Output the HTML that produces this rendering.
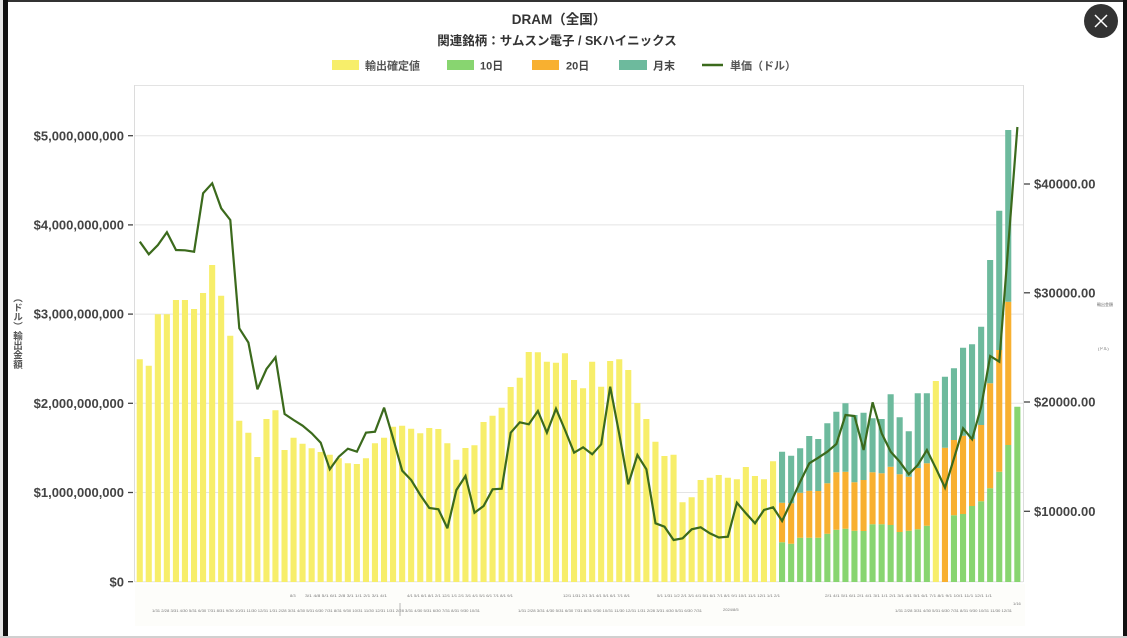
<!DOCTYPE html>
<html><head><meta charset="utf-8"><style>
html,body{margin:0;padding:0;background:#fff;}
#wrap{position:relative;width:1127px;height:638px;overflow:hidden;background:#fff;font-family:"Liberation Sans","Noto Sans CJK JP",sans-serif;}
svg{position:absolute;left:0;top:0;}
.vt{position:absolute;left:12px;top:293px;height:110px;writing-mode:vertical-rl;font-size:9.5px;font-weight:bold;color:#555;line-height:12px;white-space:nowrap;font-family:"Noto Sans CJK JP","Liberation Sans",sans-serif;}
</style></head><body><div id="wrap">
<svg width="1127" height="638" viewBox="0 0 1127 638" xmlns="http://www.w3.org/2000/svg" font-family="Liberation Sans, Noto Sans CJK JP, sans-serif">
<!-- frame borders -->
<rect x="0" y="0" width="1127" height="2" fill="#333"/>
<rect x="0" y="0" width="3" height="638" fill="#e6e6e6"/>
<rect x="3" y="0" width="5" height="638" fill="#111"/>
<rect x="1123" y="0" width="4" height="638" fill="#111"/>
<rect x="0" y="636" width="1127" height="2" fill="#d0d0d0"/>

<!-- title -->
<text x="559" y="24" text-anchor="middle" font-size="13.5" font-weight="bold" fill="#333">DRAM（全国）</text>
<text x="557" y="45" text-anchor="middle" font-size="12.5" font-weight="bold" fill="#333">関連銘柄：サムスン電子 / SKハイニックス</text>

<!-- legend -->
<rect x="332" y="60" width="27" height="10" fill="#f7ee6a"/>
<text x="365" y="69.5" font-size="11" font-weight="bold" fill="#555">輸出確定値</text>
<rect x="447" y="60" width="27" height="10" fill="#88d570"/>
<text x="480" y="69.5" font-size="11" font-weight="bold" fill="#444">10日</text>
<rect x="532" y="60" width="27" height="10" fill="#f8b030"/>
<text x="566" y="69.5" font-size="11" font-weight="bold" fill="#444">20日</text>
<rect x="619" y="60" width="28" height="10" fill="#6dba9d"/>
<text x="653" y="69.5" font-size="11" font-weight="bold" fill="#444">月末</text>
<line x1="702" y1="65" x2="723" y2="65" stroke="#3b6a1c" stroke-width="2.5"/>
<text x="730" y="69.5" font-size="11" font-weight="bold" fill="#555">単価（ドル）</text>

<!-- plot frame & grid -->
<line x1="134.5" y1="85.5" x2="1023" y2="85.5" stroke="#e3e3e3" stroke-width="1"/>
<line x1="134.5" y1="85" x2="134.5" y2="582" stroke="#dcdcdc" stroke-width="1"/>
<line x1="1023.5" y1="85" x2="1023.5" y2="582" stroke="#dcdcdc" stroke-width="1"/>
<g stroke="#e4e4e4" stroke-width="1">
<line x1="135" y1="135.7" x2="1023" y2="135.7"/>
<line x1="135" y1="224.9" x2="1023" y2="224.9"/>
<line x1="135" y1="314.1" x2="1023" y2="314.1"/>
<line x1="135" y1="403.3" x2="1023" y2="403.3"/>
<line x1="135" y1="492.5" x2="1023" y2="492.5"/>
<line x1="135" y1="581.7" x2="1023" y2="581.7"/>
</g>
<!-- x label area faint box -->
<rect x="135" y="584" width="890" height="42" fill="#fdfdfa"/>

<!-- left axis ticks & labels -->
<g stroke="#444" stroke-width="1.3">
<line x1="128" y1="135.7" x2="133" y2="135.7"/>
<line x1="128" y1="224.9" x2="133" y2="224.9"/>
<line x1="128" y1="314.1" x2="133" y2="314.1"/>
<line x1="128" y1="403.3" x2="133" y2="403.3"/>
<line x1="128" y1="492.5" x2="133" y2="492.5"/>
<line x1="128" y1="581.7" x2="133" y2="581.7"/>
</g>
<g font-size="13" font-weight="bold" fill="#444" text-anchor="end">
<text x="124" y="140.3">$5,000,000,000</text>
<text x="124" y="229.5">$4,000,000,000</text>
<text x="124" y="318.7">$3,000,000,000</text>
<text x="124" y="407.9">$2,000,000,000</text>
<text x="124" y="497.1">$1,000,000,000</text>
<text x="124" y="586.3">$0</text>
</g>

<!-- right axis ticks & labels -->
<g stroke="#444" stroke-width="1.3">
<line x1="1024" y1="184" x2="1030" y2="184"/>
<line x1="1024" y1="292.8" x2="1030" y2="292.8"/>
<line x1="1024" y1="402" x2="1030" y2="402"/>
<line x1="1024" y1="511.3" x2="1030" y2="511.3"/>
</g>
<g font-size="13" font-weight="bold" fill="#444">
<text x="1034" y="188.6">$40000.00</text>
<text x="1034" y="297.4">$30000.00</text>
<text x="1034" y="406.6">$20000.00</text>
<text x="1034" y="515.9">$10000.00</text>
</g>
<text x="1097" y="306" font-size="4" fill="#666">輸出金額</text>
<text x="1098" y="350" font-size="4" fill="#666">(ドル)</text>

<!-- yellow bars -->
<path fill="#f7ee6a" d="
M136.7,359.3h6.1V582h-6.1z
M145.7,365.7h6.1V582h-6.1z
M154.8,314.3h6.1V582h-6.1z
M163.8,314.3h6.1V582h-6.1z
M172.9,300h6.1V582h-6.1z
M181.9,300h6.1V582h-6.1z
M191.0,309h6.1V582h-6.1z
M200.0,293h6.1V582h-6.1z
M209.1,265h6.1V582h-6.1z
M218.1,295.7h6.1V582h-6.1z
M227.2,335.7h6.1V582h-6.1z
M236.2,420.7h6.1V582h-6.1z
M245.3,432.7h6.1V582h-6.1z
M254.3,457h6.1V582h-6.1z
M263.4,419h6.1V582h-6.1z
M272.4,410.3h6.1V582h-6.1z
M281.5,450h6.1V582h-6.1z
M290.5,437.7h6.1V582h-6.1z
M299.5,443.7h6.1V582h-6.1z
M308.6,448.3h6.1V582h-6.1z
M317.6,452h6.1V582h-6.1z
M326.7,454.7h6.1V582h-6.1z
M335.7,458.3h6.1V582h-6.1z
M344.8,463.3h6.1V582h-6.1z
M353.8,464h6.1V582h-6.1z
M362.9,458.3h6.1V582h-6.1z
M371.9,443.3h6.1V582h-6.1z
M381.0,437.7h6.1V582h-6.1z
M390.0,426.7h6.1V582h-6.1z
M399.1,425.7h6.1V582h-6.1z
M408.1,428.7h6.1V582h-6.1z
M417.2,433.3h6.1V582h-6.1z
M426.2,428h6.1V582h-6.1z
M435.3,429h6.1V582h-6.1z
M444.3,443.3h6.1V582h-6.1z
M453.3,459.7h6.1V582h-6.1z
M462.4,448h6.1V582h-6.1z
M471.4,445.3h6.1V582h-6.1z
M480.5,422h6.1V582h-6.1z
M489.5,415.7h6.1V582h-6.1z
M498.6,407.7h6.1V582h-6.1z
M507.6,387h6.1V582h-6.1z
M516.7,377.7h6.1V582h-6.1z
M525.7,352h6.1V582h-6.1z
M534.8,352.3h6.1V582h-6.1z
M543.8,361.7h6.1V582h-6.1z
M552.9,362.7h6.1V582h-6.1z
M561.9,353.3h6.1V582h-6.1z
M571.0,380h6.1V582h-6.1z
M580.0,388.3h6.1V582h-6.1z
M589.1,361.7h6.1V582h-6.1z
M598.1,386.7h6.1V582h-6.1z
M607.1,361h6.1V582h-6.1z
M616.2,359.3h6.1V582h-6.1z
M625.2,370h6.1V582h-6.1z
M634.3,403h6.1V582h-6.1z
M643.3,419h6.1V582h-6.1z
M652.4,441.7h6.1V582h-6.1z
M661.4,456h6.1V582h-6.1z
M670.5,454.7h6.1V582h-6.1z
M679.5,502.3h6.1V582h-6.1z
M688.6,497.3h6.1V582h-6.1z
M697.6,480h6.1V582h-6.1z
M706.7,477.7h6.1V582h-6.1z
M715.7,475h6.1V582h-6.1z
M724.8,477.7h6.1V582h-6.1z
M733.8,479.3h6.1V582h-6.1z
M742.8,467h6.1V582h-6.1z
M751.9,476h6.1V582h-6.1z
M760.9,479.3h6.1V582h-6.1z
M770.0,461.3h6.1V582h-6.1z
M932.8,381h6.1V582h-6.1z
"/>

<!-- green (10日) -->
<path fill="#88d570" d="
M779.0,542.3h6.1V582h-6.1z
M788.1,543.7h6.1V582h-6.1z
M797.1,537.7h6.1V582h-6.1z
M806.2,537.7h6.1V582h-6.1z
M815.2,537.7h6.1V582h-6.1z
M824.3,533.7h6.1V582h-6.1z
M833.3,529.7h6.1V582h-6.1z
M842.4,528.7h6.1V582h-6.1z
M851.4,530.7h6.1V582h-6.1z
M860.5,531h6.1V582h-6.1z
M869.5,524.3h6.1V582h-6.1z
M878.6,524.3h6.1V582h-6.1z
M887.6,525h6.1V582h-6.1z
M896.6,532h6.1V582h-6.1z
M905.7,530.7h6.1V582h-6.1z
M914.7,529.3h6.1V582h-6.1z
M923.8,525.7h6.1V582h-6.1z
M950.9,515.3h6.1V582h-6.1z
M960.0,514h6.1V582h-6.1z
M969.0,506h6.1V582h-6.1z
M978.1,501.3h6.1V582h-6.1z
M987.1,488.3h6.1V582h-6.1z
M996.2,471.7h6.1V582h-6.1z
M1005.2,445h6.1V582h-6.1z
M1014.3,406.7h6.1V582h-6.1z
"/>

<!-- orange (20日) -->
<path fill="#f8b030" d="
M779.0,502.7h6.1V542.3h-6.1z
M788.1,503.3h6.1V543.7h-6.1z
M797.1,492.7h6.1V537.7h-6.1z
M806.2,490.7h6.1V537.7h-6.1z
M815.2,491h6.1V537.7h-6.1z
M824.3,483.3h6.1V533.7h-6.1z
M833.3,472.3h6.1V529.7h-6.1z
M842.4,471.7h6.1V528.7h-6.1z
M851.4,482.3h6.1V530.7h-6.1z
M860.5,480h6.1V531h-6.1z
M869.5,472.3h6.1V524.3h-6.1z
M878.6,473.3h6.1V524.3h-6.1z
M887.6,466.7h6.1V525h-6.1z
M896.6,474.3h6.1V532h-6.1z
M905.7,476.7h6.1V530.7h-6.1z
M914.7,468h6.1V529.3h-6.1z
M923.8,463.3h6.1V525.7h-6.1z
M941.9,447.7h6.1V582h-6.1z
M950.9,440h6.1V515.3h-6.1z
M960.0,435.7h6.1V514h-6.1z
M969.0,439h6.1V506h-6.1z
M978.1,425h6.1V501.3h-6.1z
M987.1,383.3h6.1V488.3h-6.1z
M996.2,350h6.1V471.7h-6.1z
M1005.2,301.7h6.1V445h-6.1z
"/>

<!-- teal (月末) -->
<path fill="#6dba9d" d="
M779.0,451.7h6.1V502.7h-6.1z
M788.1,455.7h6.1V503.3h-6.1z
M797.1,448.3h6.1V492.7h-6.1z
M806.2,436h6.1V490.7h-6.1z
M815.2,439h6.1V491h-6.1z
M824.3,423.3h6.1V483.3h-6.1z
M833.3,411.7h6.1V472.3h-6.1z
M842.4,403.3h6.1V471.7h-6.1z
M851.4,415h6.1V482.3h-6.1z
M860.5,412.7h6.1V480h-6.1z
M869.5,418.3h6.1V472.3h-6.1z
M878.6,419h6.1V473.3h-6.1z
M887.6,394.3h6.1V466.7h-6.1z
M896.6,417.3h6.1V474.3h-6.1z
M905.7,431.3h6.1V476.7h-6.1z
M914.7,393.3h6.1V468h-6.1z
M923.8,393.3h6.1V463.3h-6.1z
M941.9,376.7h6.1V447.7h-6.1z
M950.9,368.3h6.1V440h-6.1z
M960.0,347.7h6.1V435.7h-6.1z
M969.0,344.3h6.1V439h-6.1z
M978.1,326.7h6.1V425h-6.1z
M987.1,260h6.1V383.3h-6.1z
M996.2,210.7h6.1V350h-6.1z
M1005.2,130h6.1V301.7h-6.1z
"/>

<!-- price line -->
<polyline fill="none" stroke="#3b6a1c" stroke-width="2.2" stroke-linejoin="miter" stroke-miterlimit="3" points="139.8,241.7 148.8,254.3 157.9,245 166.9,232.3 176,250 185,250.3 194.1,251.7 203.1,193.3 212.2,183.3 221.2,208.3 230.3,220 239.3,328.3 248.4,342.5 257.4,389.3 266.5,369 275.5,357.3 284.6,414 293.6,420 302.6,425.7 311.7,433.3 320.7,442.7 329.8,469.3 338.8,456.7 347.9,448.7 356.9,451.7 366,432.7 375,431.7 384.1,407.7 393.1,438.3 402.2,470.7 411.2,480 420.3,495 429.3,508 438.4,509.3 447.4,528.3 456.4,490 465.5,476 474.5,512.7 483.6,506 492.6,489.3 501.7,488.7 510.7,432.7 519.8,422.3 528.8,424.3 537.9,411 546.9,432.7 556,408.7 565,430 574.1,452.7 583.1,447.3 592.2,454.3 601.2,444.3 610.2,386.7 619.3,434.3 628.3,484.3 637.4,455 646.4,469.3 655.5,523.3 664.5,526.7 673.6,540 682.6,538.3 691.7,529.3 700.7,527.3 709.8,533.3 718.8,537.5 727.9,536.7 736.9,502.7 745.9,513.3 755,523.3 764,510 773.1,507.3 782.1,521 791.2,501.7 800.2,481.7 809.3,463.3 818.3,457.7 827.4,451.7 836.4,444 845.5,415 854.5,416 863.6,450 872.6,402.3 881.7,433.3 890.7,451.7 899.7,461.7 908.8,474.3 917.8,465 926.9,450 935.9,468.3 945,487.7 954,458.3 963.1,428.3 972.1,439.3 981.2,406.7 990.2,356 999.3,361.7 1008.3,245 1017.4,127"/>

<!-- tiny x-axis labels -->
<g font-size="4" fill="#777">
<text x="290" y="597">8/3</text>
<text x="305" y="597" textLength="82" lengthAdjust="spacingAndGlyphs">3/1 4/8 5/1 6/1 2/8 3/1 1/1 2/1 3/1 4/1</text>
<text x="407" y="597" textLength="106" lengthAdjust="spacingAndGlyphs">4/1 5/1 6/1 8/1 2/1 12/1 1/1 2/1 3/1 4/1 5/1 6/1 7/1 8/1 9/1</text>
<text x="563" y="597" textLength="67" lengthAdjust="spacingAndGlyphs">12/1 1/31 2/1 3/1 4/1 5/1 6/1 7/1 8/1</text>
<text x="657" y="597" textLength="123" lengthAdjust="spacingAndGlyphs">5/1 1/31 1/2 2/1 3/1 4/1 5/1 6/1 7/1 8/1 9/1 10/1 11/1 12/1 1/1 2/1</text>
<text x="825" y="597" textLength="167" lengthAdjust="spacingAndGlyphs">2/1 4/1 5/1 6/1 2/1 4/1 3/1 1/1 2/1 3/1 4/1 5/1 6/1 7/1 8/1 9/1 10/1 11/1 12/1 1/1</text>
<text x="1013" y="605">1/16</text>
<text x="152" y="612" textLength="328" lengthAdjust="spacingAndGlyphs">1/31 2/28 3/31 4/30 5/31 6/30 7/31 8/31 9/30 10/31 11/30 12/31 1/31 2/28 3/31 4/30 5/31 6/30 7/31 8/31 9/30 10/31 11/30 12/31 1/31 2/28 3/31 4/30 5/31 6/30 7/31 8/31 9/30 10/31</text>
<text x="518" y="612" textLength="184" lengthAdjust="spacingAndGlyphs">1/31 2/28 3/31 4/30 5/31 6/30 7/31 8/31 9/30 10/31 11/30 12/31 1/31 2/28 3/31 4/30 5/31 6/30 7/31</text>
<text x="723" y="611">2024/8/5</text>
<text x="895" y="612" textLength="117" lengthAdjust="spacingAndGlyphs">1/31 2/28 3/31 4/30 5/31 6/30 7/31 8/31 9/30 10/31 11/30 12/31</text>
</g>
<line x1="400" y1="603" x2="400" y2="616" stroke="#888" stroke-width="0.6"/>

<!-- close button -->
<circle cx="1101" cy="21" r="17" fill="#333"/>
<line x1="1095" y1="15" x2="1107" y2="27" stroke="#fff" stroke-width="1.5"/>
<line x1="1107" y1="15" x2="1095" y2="27" stroke="#fff" stroke-width="1.5"/>
</svg>
<div class="vt">（ドル）輸出金額</div>
</div></body></html>
